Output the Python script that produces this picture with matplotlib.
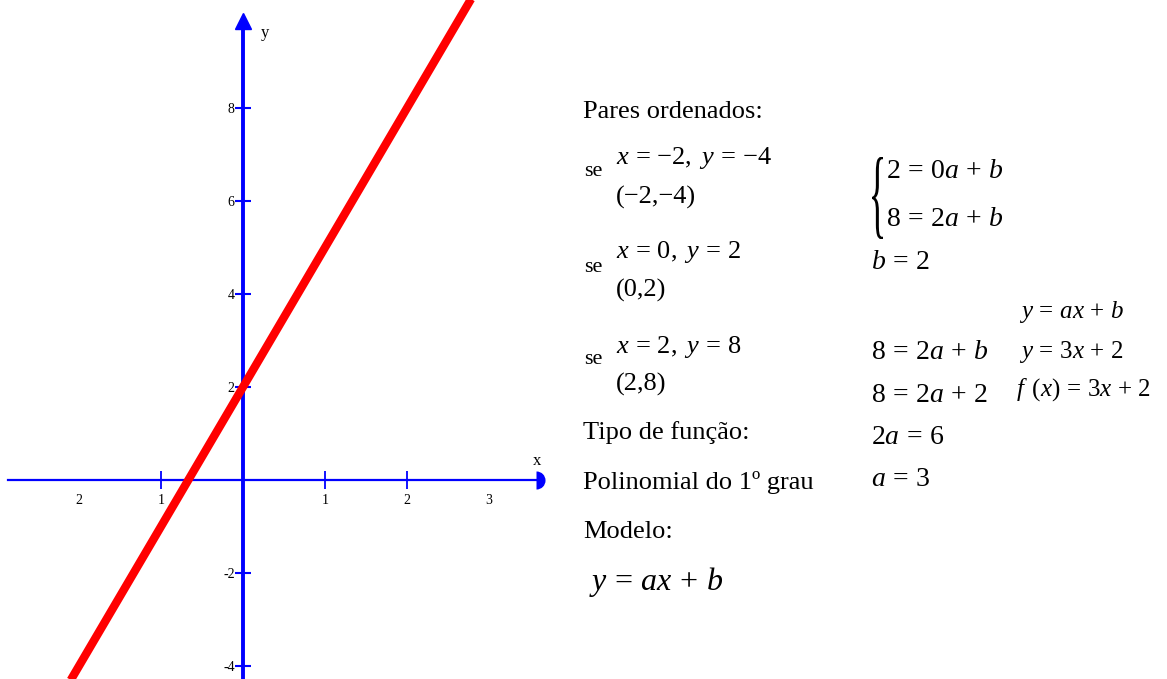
import numpy as np
import matplotlib.pyplot as plt
from matplotlib.textpath import TextPath
from matplotlib.patches import PathPatch
from matplotlib.font_manager import FontProperties
from matplotlib.transforms import Affine2D, IdentityTransform

plt.rcParams['font.family'] = 'Liberation Serif'
plt.rcParams['mathtext.fontset'] = 'custom'
plt.rcParams['mathtext.rm'] = 'Liberation Serif'
plt.rcParams['mathtext.it'] = 'Liberation Serif:italic'

# funcao do 1o grau: y = a*x + b
a = 3
b = 2
x_reta = np.array([-3.0, 3.0])
y_reta = a * x_reta + b

# marcas e rotulos dos eixos
x_marcas = [-1, 1, 2]
x_rot_pos = [-2, -1, 1, 2, 3]
x_rot = ['2', '1', '1', '2', '3']
y_marcas = [-4, -2, 2, 4, 6, 8]
y_rot = ['-4', '-2', '2', '4', '6', '8']

# pares ordenados (x, y)
pares = [(-2, -4), (0, 2), (2, 8)]

W, H = 1167, 679
fig = plt.figure(figsize=(W / 100, H / 100), dpi=100)

# eixo do grafico: origem em (243, 480) px, 82 px por unidade em x, 46.5 em y
ox, oy, ux, uy = 243, 480, 82, 46.5
ax = fig.add_axes([0, 0, 560 / W, 1])
ax.set_xlim(-ox / ux, (560 - ox) / ux)
ax.set_ylim(-(H - oy) / uy, oy / uy)

azul = '#0000ff'
for s in ['top', 'right']:
    ax.spines[s].set_visible(False)
ax.spines['left'].set_position(('data', 0))
ax.spines['bottom'].set_position(('data', 0))
ax.spines['bottom'].set_bounds((8 - ox) / ux, (538 - ox) / ux)
ax.spines['left'].set_bounds(-(H - oy) / uy, (oy - 22) / uy)
ax.spines['left'].set_color(azul)
ax.spines['left'].set_linewidth(2.8)
ax.spines['bottom'].set_color(azul)
ax.spines['bottom'].set_linewidth(1.6)

# pontas de seta
ax.plot((536 - ox) / ux, 0, marker='o', ms=13, fillstyle='right', color=azul,
        markerfacecoloralt='none', markeredgewidth=0, clip_on=False)
ax.plot(0, (oy - 21) / uy, marker='^', ms=11, color=azul, clip_on=False)

ax.set_xticks(x_rot_pos, x_rot)
ax.set_xticks(x_marcas, minor=True)
ax.xaxis.remove_overlapping_locs = False
ax.tick_params(axis='x', which='major', length=0, pad=10, labelsize=10)
ax.tick_params(axis='x', which='minor', length=13, width=1.3, direction='inout', color=azul)
ax.set_yticks(y_marcas, y_rot)
ax.tick_params(axis='y', which='major', length=12, width=1.5, direction='inout',
               color=azul, pad=0, labelsize=10)

ax.text((265 - ox) / ux, (oy - 33) / uy, 'y', fontsize=12, ha='center', va='center')
ax.text((537 - ox) / ux, (oy - 461) / uy, 'x', fontsize=12, ha='center', va='center')

ax.plot(x_reta, y_reta, color='red', lw=6, solid_capstyle='butt', zorder=3)


def px(x, y):
    return x / W, 1 - y / H


def escreve(x, y, s, tam=19):
    fig.text(*px(x, y), s, fontsize=tam, ha='left', va='center')


def eq(s):
    # espacos em volta de = e + como no editor de equacoes
    s = s.replace(' = ', r'\,=\,').replace(' + ', r'\,+\,').replace(', ', r',\ ')
    return '$' + s + '$'


escreve(583, 112, 'Pares ordenados:')
for i, (xp, yp) in enumerate(pares):
    y_se = [171, 268, 360][i]
    y_eq = [158, 252, 347][i]
    y_par = [197, 290, 384][i]
    escreve(584, y_se, 'se', 16)
    escreve(616, y_eq, eq(f'x = {xp}, y = {yp}'.replace('-', '{-}')), 19)
    escreve(616, y_par, f'({xp},{yp})'.replace('-', '\u2212'), 19)

escreve(583, 433, 'Tipo de função:')
escreve(583, 483, 'Polinomial do 1º grau')
escreve(583, 532, 'Modelo:')
escreve(589, 582, eq('y = ax + b'), 23)

# sistema de equacoes
escreve(886, 171, eq('2 = 0a + b'), 20)
escreve(886, 219, eq('8 = 2a + b'), 20)
tp = TextPath((0, 0), '{', size=100, prop=FontProperties(family='Liberation Serif'))
ext = tp.get_extents()
tr = Affine2D().translate(-ext.x0, -ext.y0).scale(11 / ext.width, 82 / ext.height)
tr = tr.translate(872, H - 239)
fig.add_artist(PathPatch(tr.transform_path(tp), transform=IdentityTransform(),
                         facecolor='black', lw=0))

escreve(871, 263, eq('b = 2'), 20)
escreve(871, 352, eq('8 = 2a + b'), 20)
escreve(871, 396, eq('8 = 2a + 2'), 20)
escreve(871, 437, eq('2a = 6'), 20)
escreve(871, 480, eq('a = 3'), 20)

escreve(1019, 312, eq('y = ax + b'), 18)
escreve(1019, 352, eq('y = 3x + 2'), 18)
escreve(1016, 390, eq(r'f\ \,(x) = 3x + 2'), 18)

fig.savefig('out.png', dpi=100)
